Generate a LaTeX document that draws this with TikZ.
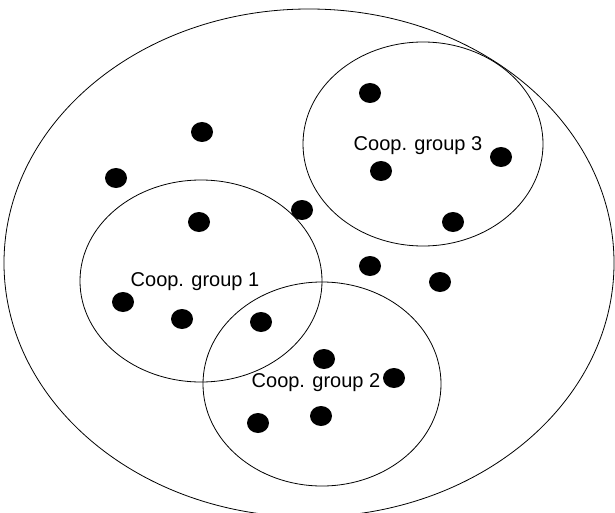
\documentclass[tikz,border=0pt]{standalone}
\usepackage{fontspec}
\setmainfont{Liberation Sans}
\usepackage{tikz}
\usetikzlibrary{shapes.geometric}

\tikzset{
  member/.style={ellipse, fill=black, inner sep=0pt, minimum width=22pt, minimum height=20pt},
  grouplabel/.style={inner sep=0pt, font=\fontsize{20}{24}\selectfont},
}

\begin{document}
\begin{tikzpicture}[x=1pt, y=-1pt, line width=0.8pt]
      \clip (0, 0) rectangle (615, 513);
      \useasboundingbox (0, 0) rectangle (615, 513);

      % whole population and the three groups
      \draw (309, 263) ellipse (305 and 254);
      \draw (423, 144) ellipse (120 and 102);
      \draw (201, 281) ellipse (121 and 101);
      \draw (322, 384) ellipse (119 and 102);

      \node [grouplabel] (g3) at (418, 146) {Coop. group 3};
      \node [grouplabel] (g1) at (195, 282) {Coop. group 1};
      \node [grouplabel] (g2) at (316, 383) {Coop. group 2};

      \node [member] (m1) at (370, 93) {};
      \node [member] (m2) at (202, 132) {};
      \node [member] (m3) at (116, 178) {};
      \node [member] (m4) at (501, 157) {};
      \node [member] (m5) at (381, 171) {};
      \node [member] (m6) at (302, 210) {};
      \node [member] (m7) at (199, 222) {};
      \node [member] (m8) at (453, 222) {};
      \node [member] (m9) at (370, 266) {};
      \node [member] (m10) at (440, 282) {};
      \node [member] (m11) at (123, 302) {};
      \node [member] (m12) at (182, 319) {};
      \node [member] (m13) at (261, 322) {};
      \node [member] (m14) at (324, 359) {};
      \node [member] (m15) at (394, 378) {};
      \node [member] (m16) at (258, 423) {};
      \node [member] (m17) at (321, 416) {};
\end{tikzpicture}
\end{document}
